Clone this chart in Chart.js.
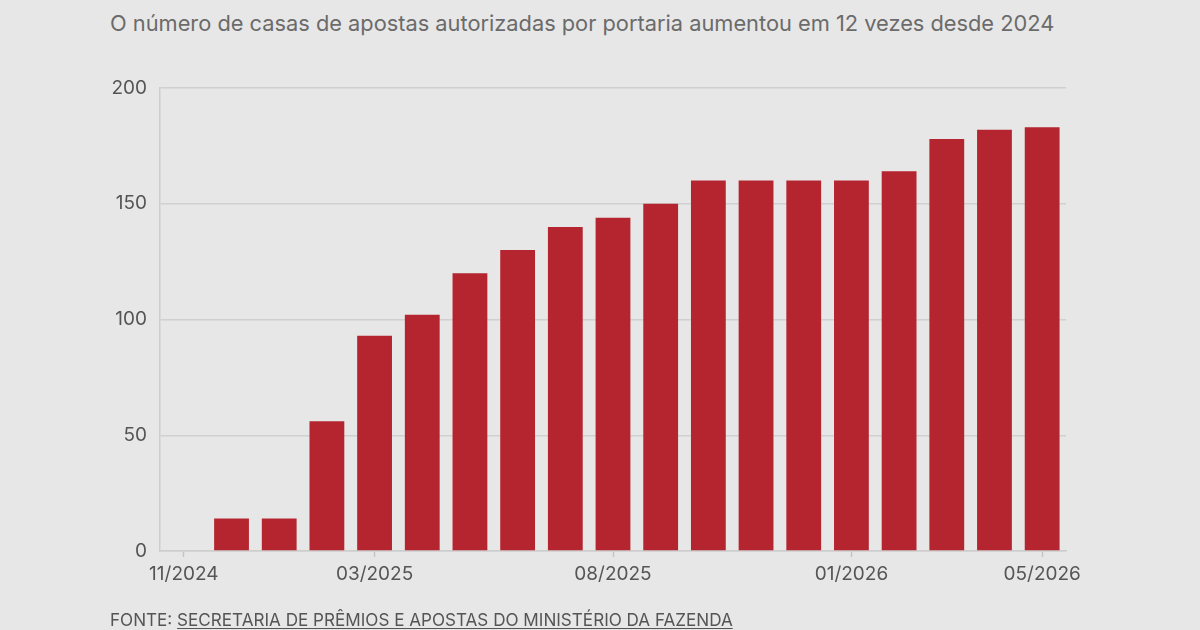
<!DOCTYPE html>
<html>
<head>
<meta charset="utf-8">
<script src="https://cdn.jsdelivr.net/npm/chart.js@4"></script>
<style>
  html, body { margin: 0; padding: 0; background: #e7e7e7; width: 1200px; height: 630px; overflow: hidden; }
  #title { position: absolute; left: 110px; top: 10px; font-family: Inter, sans-serif; font-size: 21.8px; color: #6b6b6b; white-space: nowrap; }
  #source { position: absolute; left: 110px; top: 609px; font-family: Inter, sans-serif; font-size: 17.1px; color: #555; white-space: nowrap; }
  #source u { text-decoration-thickness: 1px; text-underline-offset: 2px; }
  #wrap { position: absolute; left: 0; top: 0; width: 1200px; height: 630px; }
</style>
</head>
<body>
<div id="title">O número de casas de apostas autorizadas por portaria aumentou em 12 vezes desde 2024</div>
<div id="wrap"><canvas id="chart"></canvas></div>
<div id="source">FONTE: <u>SECRETARIA DE PRÊMIOS E APOSTAS DO MINISTÉRIO DA FAZENDA</u></div>
<script>
const months = ['11/2024', '12/2024', '01/2025', '02/2025', '03/2025', '04/2025', '05/2025',
  '06/2025', '07/2025', '08/2025', '09/2025', '10/2025', '11/2025', '12/2025',
  '01/2026', '02/2026', '03/2026', '04/2026', '05/2026'];
const casas = [0, 14, 14, 56, 93, 102, 120, 130, 140, 144, 150, 160, 160, 160, 160, 164, 178, 182, 183];
const shownMonths = ['11/2024', '03/2025', '08/2025', '01/2026', '05/2026'];
const yTicks = [0, 50, 100, 150, 200];

const labelFont = { family: 'Inter, sans-serif', size: 19 };

new Chart(document.getElementById('chart'), {
  type: 'bar',
  data: {
    labels: months,
    datasets: [{
      data: casas,
      backgroundColor: '#b52530',
      borderWidth: 0,
      barPercentage: 0.73,
      categoryPercentage: 1
    }]
  },
  options: {
    responsive: true,
    maintainAspectRatio: false,
    animation: false,
    layout: { padding: { top: 88, right: 134, bottom: 29, left: 0 } },
    plugins: { legend: { display: false }, tooltip: { enabled: false } },
    scales: {
      x: {
        grid: {
          offset: false,
          drawOnChartArea: false,
          drawTicks: true,
          tickLength: 6,
          tickWidth: 1.5,
          tickColor: ctx => shownMonths.includes(months[ctx.index]) ? '#c4c4c4' : 'rgba(0,0,0,0)'
        },
        border: { display: true, color: '#cdcdcd', width: 1.5 },
        ticks: {
          autoSkip: false,
          maxRotation: 0,
          padding: 6,
          color: '#555',
          font: labelFont,
          callback: (v, i) => shownMonths.includes(months[i]) ? months[i] : ''
        },
        afterFit: scale => { scale.height = 50; }
      },
      y: {
        min: 0,
        max: 200,
        afterBuildTicks: scale => { scale.ticks = yTicks.map(v => ({ value: v })); },
        grid: { color: '#d0d0d0', lineWidth: 1.5, drawTicks: false },
        border: { display: true, color: '#cdcdcd', width: 1.5 },
        ticks: { padding: 13, color: '#555', font: labelFont },
        afterFit: scale => { scale.width = 160; }
      }
    }
  }
});
</script>
</body>
</html>
